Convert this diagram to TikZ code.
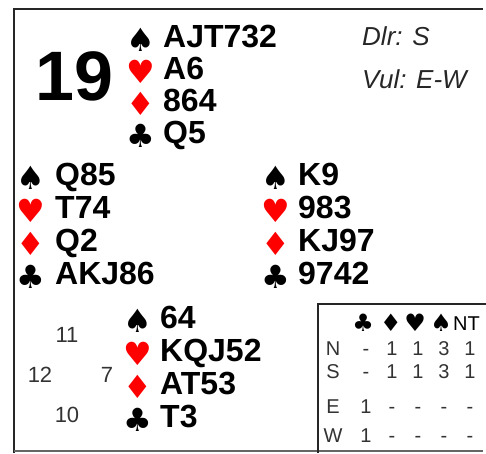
\documentclass[tikz,border=0pt]{standalone}
\usepackage{fontspec}
\setmainfont{Liberation Sans}
\newfontfamily\suitfont{DejaVu Sans}
\newcommand{\Spd}{{\suitfont ♠}}
\newcommand{\Hrt}{{\suitfont ♥}}
\newcommand{\Dmd}{{\suitfont ♦}}
\newcommand{\Clb}{{\suitfont ♣}}
\usetikzlibrary{positioning,calc}

\tikzset{
  cards/.style={anchor=base west, inner sep=0pt, font=\fontsize{32}{32}\selectfont\bfseries},
  suit/.style={anchor=base, inner sep=0pt, text height=21pt, text depth=2pt, font=\fontsize{32}{32}\selectfont\bfseries},
  hcp/.style={anchor=base, inner sep=0pt, text=black!80, font=\fontsize{22}{22}\selectfont},
  ddcell/.style={anchor=base, inner sep=0pt, text=black!80, font=\fontsize{20}{20}\selectfont},
  info/.style={anchor=base west, inner sep=0pt, text=black!85, font=\fontsize{26}{26}\selectfont\itshape}
}

\begin{document}
\begin{tikzpicture}[x=1pt, y=-1pt]
    \useasboundingbox (0,0) rectangle (486,453);

    % Frame
    \draw[line width=2.5pt, black!85] (14,453) -- (14,9) -- (483,9);
    \draw[line width=1.5pt, black!60] (14,451) -- (483,451);

    % Board, dealer, vulnerability
    \node[anchor=base west, inner sep=0pt, font=\fontsize{70}{70}\selectfont\bfseries] (board) at (35,100) {19};
    \node[info] (dealer) at (362,45) {Dlr: S};
    \node[info] (vul) at (362,88) {Vul: E-W};

    % North
    \foreach \sym/\col/\cards [count=\i] in {\Spd/black/AJT732, \Hrt/red/A6, \Dmd/red/864, \Clb/black/Q5} {
        \node[suit, text=\col] (north-s\i) at (141, {51+32.2*(\i-1)}) {\sym};
        \node[cards] (north-\i) at (163, {47+32.2*(\i-1)}) {\cards};
    }

    % West
    \foreach \sym/\col/\cards [count=\i] in {\Spd/black/Q85, \Hrt/red/T74, \Dmd/red/Q2, \Clb/black/AKJ86} {
        \node[suit, text=\col] (west-s\i) at (31, {189+33.3*(\i-1)}) {\sym};
        \node[cards] (west-\i) at (55, {185+33.3*(\i-1)}) {\cards};
    }

    % East
    \foreach \sym/\col/\cards [count=\i] in {\Spd/black/K9, \Hrt/red/983, \Dmd/red/KJ97, \Clb/black/9742} {
        \node[suit, text=\col] (east-s\i) at (276, {189+33.3*(\i-1)}) {\sym};
        \node[cards] (east-\i) at (298, {185+33.3*(\i-1)}) {\cards};
    }

    % South
    \foreach \sym/\col/\cards [count=\i] in {\Spd/black/64, \Hrt/red/KQJ52, \Dmd/red/AT53, \Clb/black/T3} {
        \node[suit, text=\col] (south-s\i) at (138, {332+33.3*(\i-1)}) {\sym};
        \node[cards] (south-\i) at (160, {328+33.3*(\i-1)}) {\cards};
    }

    % High card points
    \node[hcp] (hcp-n) at (67,342) {11};
    \node[hcp] (hcp-w) at (40,382) {12};
    \node[hcp] (hcp-e) at (107,382) {7};
    \node[hcp] (hcp-s) at (67,422) {10};

    % Double dummy table
    \draw[line width=2pt, black!85] (318,453) -- (318,304) -- (486,304);
    \foreach \sym/\x [count=\i] in {\Clb/363, \Dmd/391, \Hrt/415, \Spd/441} {
        \node[ddcell, text=black, font=\fontsize{24}{24}\selectfont\bfseries] (dd-h\i) at (\x,331) {\sym};
    }
    \node[ddcell, anchor=base west, text=black] (dd-h5) at (453,330) {NT};
    \foreach \who/\y/\vals in {N/355/{-,1,1,3,1}, S/378/{-,1,1,3,1}, E/413/{1,-,-,-,-}, W/442/{1,-,-,-,-}} {
        \node[ddcell] (dd-\who) at (333,\y) {\who};
        \foreach \v [count=\j] in \vals {
            \node[ddcell] (dd-\who-\j) at ({340+26*\j},\y) {\v};
        }
    }
\end{tikzpicture}
\end{document}
